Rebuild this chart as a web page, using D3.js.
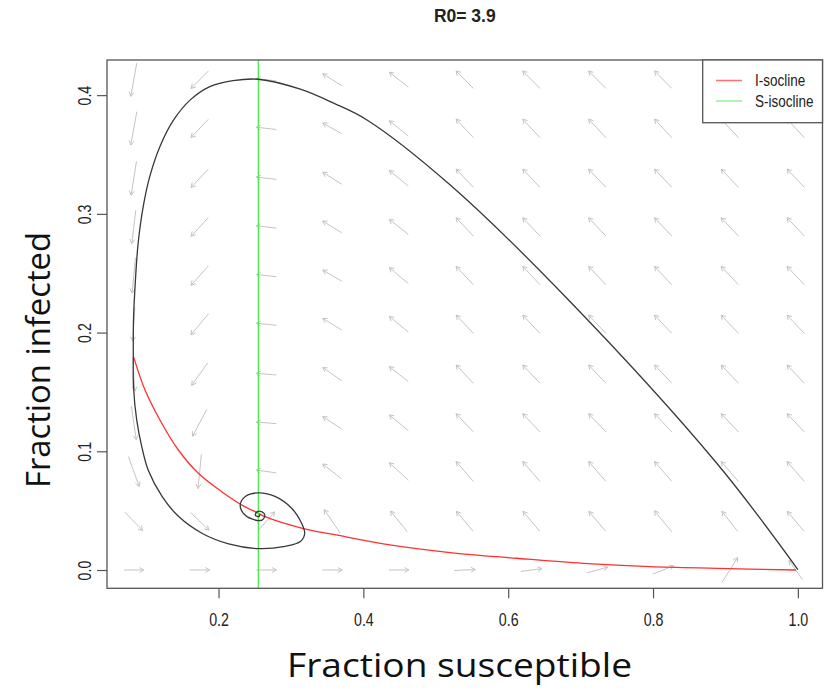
<!DOCTYPE html>
<html>
<head>
<meta charset="utf-8">
<script src="https://cdn.jsdelivr.net/npm/d3@7"></script>
<style>
  body { margin: 0; background: #fff; }
  text { font-family: 'Liberation Sans', Arial, sans-serif; }
</style>
</head>
<body>
<svg id="chart" width="834" height="688"></svg>
<script>
const title = 'R0= 3.9'
const xLabel = 'Fraction susceptible'
const yLabel = 'Fraction infected'
const xTicks = [0.2, 0.4, 0.6, 0.8, 1.0]
const yTicks = [0.0, 0.1, 0.2, 0.3, 0.4]
const legendNames = ['I-socline', 'S-isocline']

// trajectory (S, I)
const trajS = [1.000, 0.888, 0.681, 0.520, 0.405, 0.359, 0.313, 0.255, 0.220, 0.188, 0.161,
  0.138, 0.119, 0.105, 0.096, 0.089, 0.085, 0.0826, 0.0823, 0.0826, 0.087, 0.094, 0.103,
  0.122, 0.145, 0.177, 0.214, 0.255, 0.292, 0.313, 0.319, 0.315, 0.301, 0.278, 0.255,
  0.237, 0.230, 0.234, 0.246, 0.260, 0.264, 0.260, 0.253, 0.251, 0.256, 0.257]
const trajI = [0.0004, 0.0899, 0.2289, 0.3243, 0.3791, 0.3932, 0.405, 0.4134, 0.4122, 0.4072,
  0.396, 0.3791, 0.3566, 0.3313, 0.3061, 0.2752, 0.2415, 0.2106, 0.1811, 0.1544, 0.1264,
  0.104, 0.084, 0.062, 0.045, 0.031, 0.022, 0.018, 0.020, 0.024, 0.031, 0.039, 0.052,
  0.062, 0.065, 0.062, 0.055, 0.048, 0.043, 0.042, 0.046, 0.049, 0.049, 0.046, 0.045, 0.047]

// red isocline
const redS = [0.0826, 0.0985, 0.1216, 0.1445, 0.1721, 0.2044, 0.2330, 0.2550, 0.2642, 0.3185,
  0.3585, 0.4276, 0.5197, 0.6118, 0.7038, 0.7959, 0.8880, 0.9974]
const redI = [0.1797, 0.1516, 0.1236, 0.1011, 0.0815, 0.0660, 0.0545, 0.0478, 0.0449, 0.0347,
  0.0300, 0.0220, 0.0147, 0.0099, 0.0056, 0.0028, 0.0014, 0.0000]

// green isocline (vertical)
const greenS = 0.255

// flow field grid and vectors (rows from I = 0 upwards)
const gridS = [0.083, 0.174, 0.266, 0.357, 0.449, 0.540, 0.632, 0.723, 0.814, 0.906, 0.997]
const gridI = [0.000, 0.041, 0.083, 0.124, 0.165, 0.207, 0.248, 0.289, 0.330, 0.372, 0.413]
const fieldDS = [
  [0.0276, 0.0276, 0.0276, 0.0276, 0.0276, 0.0290, 0.0290, 0.0290, 0.0290, 0.0217, -0.0184],
  [0.0244, 0.0253, 0.0231, -0.0221, -0.0231, -0.0231, -0.0231, -0.0231, -0.0239, -0.0217, -0.0231],
  [0.0148, -0.0046, -0.0276, -0.0262, -0.0262, -0.0239, -0.0239, -0.0239, -0.0239, -0.0239, -0.0239],
  [0.0069, -0.0197, -0.0276, -0.0262, -0.0262, -0.0239, -0.0239, -0.0239, -0.0239, -0.0239, -0.0239],
  [0.0028, -0.0221, -0.0276, -0.0262, -0.0262, -0.0239, -0.0239, -0.0239, -0.0239, -0.0239, -0.0239],
  [-0.0028, -0.0244, -0.0276, -0.0262, -0.0262, -0.0239, -0.0239, -0.0239, -0.0239, -0.0239, -0.0239],
  [-0.0046, -0.0239, -0.0276, -0.0262, -0.0262, -0.0239, -0.0239, -0.0239, -0.0239, -0.0239, -0.0239],
  [-0.0055, -0.0239, -0.0276, -0.0262, -0.0262, -0.0239, -0.0239, -0.0239, -0.0239, -0.0239, -0.0239],
  [-0.0073, -0.0239, -0.0276, -0.0262, -0.0262, -0.0239, -0.0239, -0.0239, -0.0239, -0.0239, -0.0239],
  [-0.0083, -0.0239, -0.0276, -0.0262, -0.0262, -0.0239, -0.0239, -0.0239, -0.0239, -0.0239, -0.0239],
  [-0.0083, -0.0239, -0.0276, -0.0262, -0.0262, -0.0239, -0.0239, -0.0239, -0.0239, -0.0239, -0.0239],
]
const fieldDI = [
  [0, 0, 0, 0, 0, 0.0008, 0.0023, 0.0048, 0.0070, 0.0211, 0.0160],
  [-0.0154, -0.0149, 0.0160, 0.0197, 0.0174, 0.0168, 0.0168, 0.0168, 0.0177, 0.0168, 0.0168],
  [-0.0253, -0.0286, 0.0023, 0.0126, 0.0146, 0.0168, 0.0168, 0.0168, 0.0168, 0.0168, 0.0168],
  [-0.0286, -0.0225, 0.0014, 0.0104, 0.0132, 0.0154, 0.0154, 0.0154, 0.0154, 0.0154, 0.0154],
  [-0.0286, -0.0188, 0.0014, 0.0112, 0.0126, 0.0154, 0.0154, 0.0154, 0.0154, 0.0154, 0.0154],
  [-0.0286, -0.0177, 0.0017, 0.0099, 0.0131, 0.0154, 0.0154, 0.0154, 0.0154, 0.0154, 0.0154],
  [-0.0295, -0.0163, 0.0019, 0.0093, 0.0135, 0.0154, 0.0154, 0.0154, 0.0154, 0.0154, 0.0154],
  [-0.0281, -0.0158, 0.0019, 0.0099, 0.0126, 0.0154, 0.0154, 0.0154, 0.0154, 0.0154, 0.0154],
  [-0.0286, -0.0154, 0.0019, 0.0101, 0.0132, 0.0154, 0.0154, 0.0154, 0.0154, 0.0154, 0.0154],
  [-0.0281, -0.0154, 0.0019, 0.0090, 0.0129, 0.0156, 0.0156, 0.0156, 0.0156, 0.0156, 0.0156],
  [-0.0281, -0.0146, 0.0019, 0.0099, 0.0126, 0.0147, 0.0147, 0.0147, 0.0147, 0.0147, 0.0147],
]

const svg = d3.select('#chart')
const box = { left: 107, right: 822.5, top: 60, bottom: 588.3 }

const x = d3.scaleLinear().domain([0.046, 1.034]).range([box.left, box.right])
const y = d3.scaleLinear().domain([-0.0154, 0.4296]).range([box.bottom, box.top])

// flow field arrows, centred on grid points
const arrowG = svg.append('g').attr('stroke', '#c4c4c4').attr('stroke-width', 1).attr('fill', 'none')
gridI.forEach((gi, r) => {
  gridS.forEach((gs, c) => {
    const ds = fieldDS[r][c], di = fieldDI[r][c]
    const x0 = x(gs - ds / 2), y0 = y(gi - di / 2)
    const x1 = x(gs + ds / 2), y1 = y(gi + di / 2)
    const ang = Math.atan2(y1 - y0, x1 - x0)
    const hl = 5, ha = Math.PI / 6
    arrowG.append('line').attr('x1', x0).attr('y1', y0).attr('x2', x1).attr('y2', y1)
    arrowG.append('polyline').attr('points', [
      [x1 - hl * Math.cos(ang - ha), y1 - hl * Math.sin(ang - ha)],
      [x1, y1],
      [x1 - hl * Math.cos(ang + ha), y1 - hl * Math.sin(ang + ha)],
    ].map(p => p.join(',')).join(' '))
  })
})

// isoclines
svg.append('path')
  .datum(d3.zip(redS, redI))
  .attr('fill', 'none').attr('stroke', '#ff3030').attr('stroke-width', 1.3)
  .attr('d', d3.line().x(d => x(d[0])).y(d => y(d[1])).curve(d3.curveCatmullRom))

svg.append('line')
  .attr('x1', x(greenS)).attr('x2', x(greenS))
  .attr('y1', box.top).attr('y2', box.bottom)
  .attr('stroke', '#4cec4c').attr('stroke-width', 1.3)

// trajectory
svg.append('path')
  .datum(d3.zip(trajS, trajI))
  .attr('fill', 'none').attr('stroke', '#383838').attr('stroke-width', 1.3)
  .attr('d', d3.line().x(d => x(d[0])).y(d => y(d[1])).curve(d3.curveCatmullRom))

// box + axes
svg.append('rect')
  .attr('x', box.left).attr('y', box.top)
  .attr('width', box.right - box.left).attr('height', box.bottom - box.top)
  .attr('fill', 'none').attr('stroke', '#555').attr('stroke-width', 1.3)

const xAxis = svg.append('g').attr('transform', `translate(0,${box.bottom})`)
  .call(d3.axisBottom(x).tickValues(xTicks).tickSize(10).tickPadding(0).tickFormat(d3.format('.1f')))
const yAxis = svg.append('g').attr('transform', `translate(${box.left},0)`)
  .call(d3.axisLeft(y).tickValues(yTicks).tickSize(10).tickPadding(0).tickFormat(d3.format('.1f')))
;[xAxis, yAxis].forEach(g => {
  g.select('.domain').remove()
  g.selectAll('.tick line').attr('stroke', '#555').attr('stroke-width', 1.2)
  g.selectAll('.tick text').attr('fill', '#222').style('font-size', '15px')
})
xAxis.selectAll('.tick text').attr('y', 0).attr('dy', 0)
  .attr('transform', 'translate(0,38) scale(0.95,1.18)')
yAxis.selectAll('.tick text').attr('x', 0).attr('dy', 0)
  .attr('text-anchor', 'middle')
  .attr('transform', 'translate(-16,0) rotate(-90) scale(0.95,1.18)')

// legend
const lg = svg.append('g')
lg.append('rect').attr('x', 702.7).attr('y', box.top).attr('width', box.right - 702.7).attr('height', 62.7)
  .attr('fill', '#fff').attr('stroke', '#555').attr('stroke-width', 1.3)
const legendColors = ['#ff7070', '#99ee99']
legendNames.forEach((name, i) => {
  const ly = 80.5 + i * 20.5
  lg.append('line').attr('x1', 716).attr('x2', 742).attr('y1', ly).attr('y2', ly)
    .attr('stroke', legendColors[i]).attr('stroke-width', 1.5)
  lg.append('text').attr('transform', `translate(755,${ly + 5.5}) scale(0.9,1.15)`)
    .style('font-size', '15px').attr('fill', '#222').text(name)
})

// title and axis labels
svg.append('text').attr('transform', `translate(${(box.left + box.right) / 2},22) scale(1,1.1)`)
  .attr('text-anchor', 'middle').style('font-size', '17.5px').style('font-weight', 'bold')
  .attr('fill', '#222').text(title)

svg.append('text').attr('x', 459.5).attr('y', 677).attr('text-anchor', 'middle')
  .attr('textLength', 345).attr('lengthAdjust', 'spacingAndGlyphs')
  .style('font-family', "'Open Sans', sans-serif").style('font-size', '33px')
  .attr('fill', '#111').text(xLabel)

svg.append('text').attr('transform', 'translate(50,360) rotate(-90)').attr('text-anchor', 'middle')
  .attr('textLength', 256).attr('lengthAdjust', 'spacingAndGlyphs')
  .style('font-family', "'Open Sans', sans-serif").style('font-size', '33px')
  .attr('fill', '#111').text(yLabel)
</script>
</body>
</html>
